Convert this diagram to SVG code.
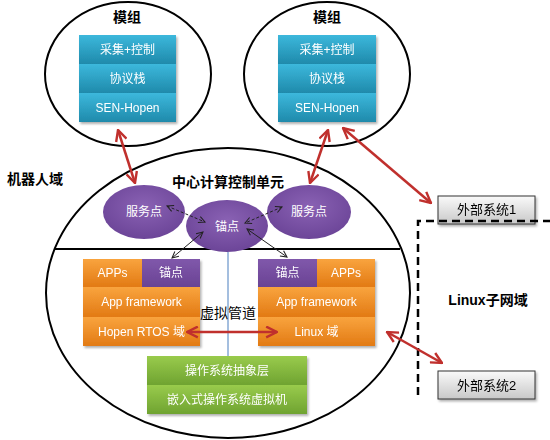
<svg xmlns="http://www.w3.org/2000/svg" width="550" height="440" viewBox="0 0 550 440">
<defs>
<style>
text{font-family:'Liberation Sans','Noto Sans CJK SC',sans-serif;}
.w{fill:#fff;font-size:12px;text-anchor:middle;dominant-baseline:central;}
.t{fill:#000;font-size:14px;font-weight:bold;text-anchor:middle;dominant-baseline:central;}
.k{fill:#000;font-size:13px;text-anchor:middle;dominant-baseline:central;}
.ring{fill:none;stroke:#000;stroke-width:2;}
.red{stroke:#c0302d;stroke-width:2.5;fill:none;marker-start:url(#ra);marker-end:url(#ra);}
.thin{stroke:#222;stroke-width:1;fill:none;marker-start:url(#ba);marker-end:url(#ba);}
.dash{stroke-dasharray:3,2;}
</style>
<marker id="ra" viewBox="0 0 12 12" refX="11" refY="6" markerWidth="13" markerHeight="13" markerUnits="userSpaceOnUse" orient="auto-start-reverse">
<path d="M1,1 L11,6 L1,11" fill="none" stroke="#c0302d" stroke-width="2.2"/>
</marker>
<marker id="ba" viewBox="0 0 10 10" refX="9" refY="5" markerWidth="8" markerHeight="8" markerUnits="userSpaceOnUse" orient="auto-start-reverse">
<path d="M1,1 L9,5 L1,9" fill="none" stroke="#222" stroke-width="1.3"/>
</marker>
<linearGradient id="gb" x1="0" y1="0" x2="0" y2="1">
<stop offset="0" stop-color="#3cb8dc"/><stop offset="1" stop-color="#1f8aab"/>
</linearGradient>
<linearGradient id="go" x1="0" y1="0" x2="0" y2="1">
<stop offset="0" stop-color="#f9a43e"/><stop offset="1" stop-color="#e27a14"/>
</linearGradient>
<linearGradient id="gp" x1="0" y1="0" x2="0" y2="1">
<stop offset="0" stop-color="#8058ab"/><stop offset="1" stop-color="#6a4394"/>
</linearGradient>
<linearGradient id="gg" x1="0" y1="0" x2="0" y2="1">
<stop offset="0" stop-color="#99cb4c"/><stop offset="1" stop-color="#6fa331"/>
</linearGradient>
<linearGradient id="gx" x1="0" y1="0" x2="0" y2="1">
<stop offset="0" stop-color="#fafafa"/><stop offset="1" stop-color="#c8c8c8"/>
</linearGradient>
<radialGradient id="ge" cx="0.5" cy="0.4" r="0.6">
<stop offset="0" stop-color="#8a62b4"/><stop offset="1" stop-color="#6c4598"/>
</radialGradient>
<filter id="sh" x="-10%" y="-10%" width="130%" height="140%">
<feDropShadow dx="1.5" dy="2" stdDeviation="1.2" flood-color="#000" flood-opacity="0.3"/>
</filter>
</defs>
<rect width="550" height="440" fill="#fff"/>

<g id="domains">
<ellipse class="ring" cx="128" cy="74" rx="83" ry="72"/>
<ellipse class="ring" cx="327" cy="74" rx="83" ry="72"/>
<ellipse class="ring" cx="228" cy="293" rx="182" ry="145"/>
<line x1="55" y1="249" x2="400" y2="249" stroke="#000" stroke-width="2"/>
<line x1="228" y1="252" x2="228" y2="356" stroke="#4a7fbf" stroke-width="1"/>
<text class="t" x="127" y="17">模组</text>
<text class="t" x="327" y="17">模组</text>
<text class="t" x="35" y="179">机器人域</text>
<text class="t" x="228" y="182">中心计算控制单元</text>
<text class="t" x="488" y="300">Linux子网域</text>
</g>

<g id="module-left" filter="url(#sh)">
<rect x="79" y="35" width="97" height="29" fill="url(#gb)"/>
<rect x="79" y="64" width="97" height="29" fill="url(#gb)"/>
<rect x="79" y="93" width="97" height="29" fill="url(#gb)"/>
<text class="w" x="127.5" y="50">采集+控制</text>
<text class="w" x="127.5" y="79">协议栈</text>
<text class="w" x="127.5" y="108">SEN-Hopen</text>
</g>

<g id="module-right" filter="url(#sh)">
<rect x="278" y="35" width="98" height="29" fill="url(#gb)"/>
<rect x="278" y="64" width="98" height="29" fill="url(#gb)"/>
<rect x="278" y="93" width="98" height="29" fill="url(#gb)"/>
<text class="w" x="327" y="50">采集+控制</text>
<text class="w" x="327" y="79">协议栈</text>
<text class="w" x="327" y="108">SEN-Hopen</text>
</g>

<g id="service-left">
<ellipse cx="144" cy="212" rx="41" ry="27" fill="url(#ge)"/>
<text class="w" x="144" y="212">服务点</text>
</g>
<g id="anchor">
<ellipse cx="227" cy="226" rx="41" ry="26" fill="url(#ge)"/>
<text class="w" x="227" y="227">锚点</text>
</g>
<g id="service-right">
<ellipse cx="309" cy="212" rx="42" ry="27" fill="url(#ge)"/>
<text class="w" x="309" y="212">服务点</text>
</g>

<g id="stack-left" filter="url(#sh)">
<rect x="83" y="259" width="59" height="28" fill="url(#go)"/>
<rect x="142" y="259" width="58" height="28" fill="url(#gp)"/>
<rect x="83" y="287" width="117" height="30" fill="url(#go)"/>
<rect x="83" y="317" width="117" height="29" fill="url(#go)"/>
<text class="w" x="112.5" y="273">APPs</text>
<text class="w" x="171" y="273">锚点</text>
<text class="w" x="141.5" y="302">App framework</text>
<text class="w" x="141.5" y="331.5">Hopen RTOS 域</text>
</g>

<g id="stack-right" filter="url(#sh)">
<rect x="258" y="259" width="59" height="28" fill="url(#gp)"/>
<rect x="317" y="259" width="58" height="28" fill="url(#go)"/>
<rect x="258" y="287" width="117" height="30" fill="url(#go)"/>
<rect x="258" y="317" width="117" height="29" fill="url(#go)"/>
<text class="w" x="287.5" y="273">锚点</text>
<text class="w" x="346" y="273">APPs</text>
<text class="w" x="316.5" y="302">App framework</text>
<text class="w" x="316.5" y="331.5">Linux 域</text>
</g>

<g id="os-layer" filter="url(#sh)">
<rect x="147" y="356" width="160" height="29" fill="url(#gg)"/>
<rect x="147" y="385" width="160" height="29" fill="url(#gg)"/>
<text class="w" x="227" y="370.5">操作系统抽象层</text>
<text class="w" x="227" y="399.5">嵌入式操作系统虚拟机</text>
</g>

<g id="ext1" filter="url(#sh)">
<rect x="438" y="196" width="97" height="28" fill="url(#gx)" stroke="#333" stroke-width="1"/>
<text class="k" x="486.5" y="209">外部系统1</text>
</g>
<g id="ext2" filter="url(#sh)">
<rect x="438" y="371" width="97" height="28" fill="url(#gx)" stroke="#333" stroke-width="1"/>
<text class="k" x="486.5" y="385">外部系统2</text>
</g>

<g id="linux-boundary">
<path d="M418,395 V221 H550" fill="none" stroke="#000" stroke-width="2.5" stroke-dasharray="8,5"/>
</g>

<g id="connectors">
<line class="red" x1="118" y1="130" x2="135" y2="183"/>
<line class="red" x1="328" y1="130" x2="310" y2="183"/>
<line class="red" x1="343" y1="128" x2="431" y2="203"/>
<line class="red" x1="187" y1="332" x2="277" y2="332"/>
<line class="red" x1="387" y1="332" x2="442" y2="363"/>
<line class="thin dash" x1="167" y1="206" x2="205" y2="222"/>
<line class="thin dash" x1="282" y1="207" x2="245" y2="223"/>
<line class="thin" x1="203" y1="232" x2="172" y2="258"/>
<line class="thin" x1="247" y1="229" x2="287" y2="257"/>
<text x="228" y="313" font-size="14" fill="#000" text-anchor="middle" dominant-baseline="central">虚拟管道</text>
</g>
</svg>
